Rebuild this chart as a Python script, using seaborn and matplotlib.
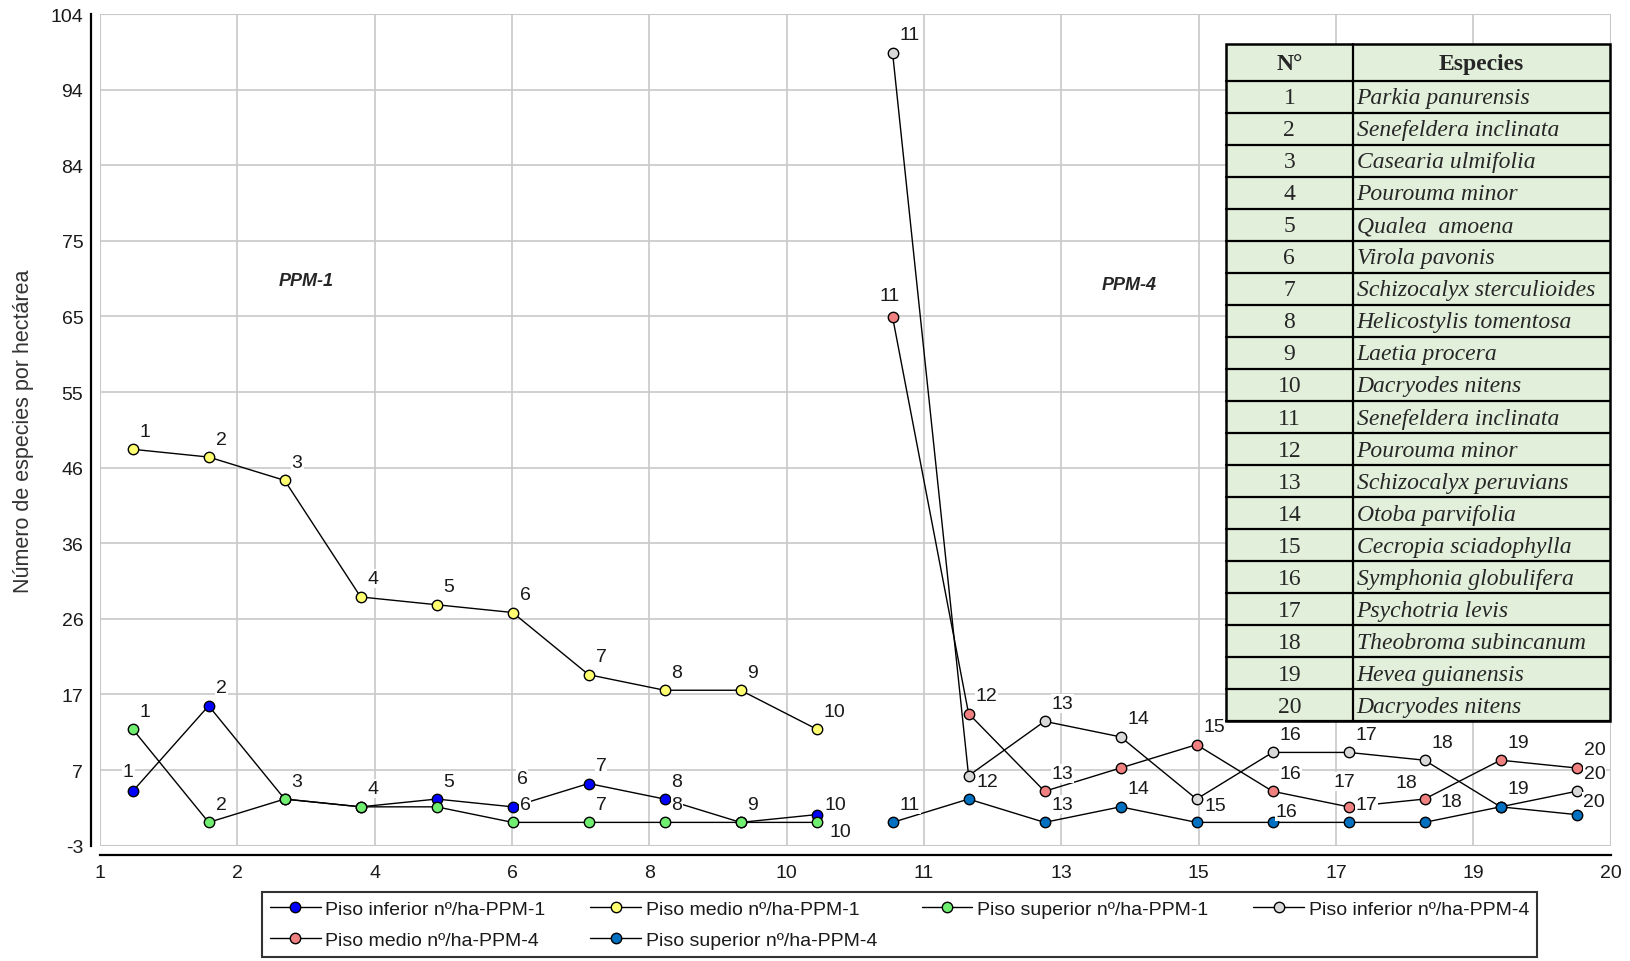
import numpy as np
import pandas as pd
import matplotlib
matplotlib.use('Agg')
import matplotlib.pyplot as plt
from matplotlib.lines import Line2D
from matplotlib.patches import Rectangle
import seaborn as sns

sns.set_theme(style='white')
plt.rcParams['font.family'] = ['Liberation Sans', 'DejaVu Sans']

# Data
ppm1_ids = list(range(1, 11))
ppm4_ids = list(range(11, 21))

inf_ppm1 = [4, 15, 3, 2, 3, 2, 5, 3, 0, 1]
med_ppm1 = [48, 47, 44, 29, 28, 27, 19, 17, 17, 12]
sup_ppm1 = [12, 0, 3, 2, 2, 0, 0, 0, 0, 0]
inf_ppm4 = [99, 6, 13, 11, 3, 9, 9, 8, 2, 4]
med_ppm4 = [65, 14, 4, 7, 10, 4, 2, 3, 8, 7]
sup_ppm4 = [0, 3, 0, 2, 0, 0, 0, 0, 2, 1]

series_names = ['Piso inferior nº/ha-PPM-1', 'Piso medio nº/ha-PPM-1',
                'Piso superior nº/ha-PPM-1', 'Piso inferior nº/ha-PPM-4',
                'Piso medio nº/ha-PPM-4', 'Piso superior nº/ha-PPM-4']
series_x = [ppm1_ids, ppm1_ids, ppm1_ids, ppm4_ids, ppm4_ids, ppm4_ids]
series_y = [inf_ppm1, med_ppm1, sup_ppm1, inf_ppm4, med_ppm4, sup_ppm4]
series_colors = ['#0000FF', '#FFFF70', '#70EE70', '#D9D9D9', '#F08080', '#0070C0']

x_tick_labels = ['1', '2', '4', '6', '8', '10', '11', '13', '15', '17', '19', '20']
y_tick_labels = ['-3', '7', '17', '26', '36', '46', '55', '65', '75', '84', '94', '104']

table_nums = [str(i) for i in range(1, 21)]
table_species = ['Parkia panurensis', 'Senefeldera inclinata', 'Casearia ulmifolia',
                 'Pourouma minor', 'Qualea  amoena', 'Virola pavonis',
                 'Schizocalyx sterculioides', 'Helicostylis tomentosa', 'Laetia procera',
                 'Dacryodes nitens', 'Senefeldera inclinata', 'Pourouma minor',
                 'Schizocalyx peruvians', 'Otoba parvifolia', 'Cecropia sciadophylla',
                 'Symphonia globulifera', 'Psychotria levis', 'Theobroma subincanum',
                 'Hevea guianensis', 'Dacryodes nitens']

# label offsets in pixels (left edge of text); None = label hidden
default_off = (7, 18)
label_off = {
    (0, 1): (-10, 20), (0, 6): (4, 28), (0, 10): (8, 10),
    (2, 3): None, (2, 4): None, (2, 5): None, (2, 9): None, (2, 10): (13, -9),
    (3, 12): (8, -6), (3, 15): (8, -6), (3, 19): None,
    (4, 11): (-13, 22), (4, 14): None, (4, 17): (-15, 25), (4, 18): (-29, 17),
    (5, 12): None, (5, 15): None, (5, 16): (3, 11), (5, 18): (16, 21), (5, 20): (6, 13),
}

W, H = 1630, 962
fig = plt.figure(figsize=(W / 100, H / 100), dpi=100)
ax = fig.add_axes([100 / W, 1 - 846.7 / H, 1510.7 / W, 831.7 / H])

xlim = (0.57, 20.45)
ylim = (-3, 104)

for i in range(6):
    sns.lineplot(x=series_x[i], y=series_y[i], ax=ax, color='black', lw=1,
                 marker='o', markersize=7.5, markerfacecolor=series_colors[i],
                 markeredgecolor='black', markeredgewidth=1, zorder=3)
    for xi, yi in zip(series_x[i], series_y[i]):
        off = label_off.get((i, xi), default_off)
        if off is None:
            continue
        ax.annotate(str(xi), (xi, yi), xytext=off, textcoords='offset pixels',
                    ha='left', va='center', fontsize=14, color='#1a1a1a', zorder=4,
                    bbox=dict(boxstyle='square,pad=0.05', fc='white', ec='none'))

ax.set_xlim(xlim)
ax.set_ylim(ylim)
ax.set_xticks(np.linspace(xlim[0], xlim[1], 12))
ax.set_xticklabels(x_tick_labels)
ax.set_yticks(np.linspace(ylim[0], ylim[1], 12))
ax.set_yticklabels(y_tick_labels)
ax.grid(True, color='#C8C8C8', lw=1.2)
ax.add_patch(Rectangle((0, 0), 1, 1, transform=ax.transAxes, fill=False,
                       ec='#C8C8C8', lw=1.5, zorder=1))
ax.set_xlabel('')
ax.set_ylabel('Número de especies por hectárea', fontsize=15.5, color='#333333')
ax.yaxis.set_label_coords(-0.044, 0.5)

for s in ['top', 'right']:
    ax.spines[s].set_visible(False)
for s in ['left', 'bottom']:
    ax.spines[s].set_color('black')
    ax.spines[s].set_linewidth(1.6)
    ax.spines[s].set_position(('outward', 6.5))
ax.tick_params(axis='both', direction='out', length=5, width=1.2, color='black',
               labelsize=14, labelcolor='#1a1a1a', pad=2)
ax.tick_params(axis='y', pad=0.5)

ax.text(3.28, 69.7, 'PPM-1', fontsize=13, fontweight='bold', fontstyle='italic',
        ha='center', va='center')
ax.text(14.11, 69.2, 'PPM-4', fontsize=13, fontweight='bold', fontstyle='italic',
        ha='center', va='center')

# species table
tx0, tx1, ty0, ty1 = 1226, 1610, 45, 722.3
tax = fig.add_axes([tx0 / W, 1 - ty1 / H, (tx1 - tx0) / W, (ty1 - ty0) / H])
tot = ty1 - ty0
hdr = 36.7
rh = (tot - hdr) / 20
tax.set_xlim(0, 1)
tax.set_ylim(tot, 0)
tax.axis('off')
tax.add_patch(Rectangle((0, 0), 1, tot, fc='#E2EFDA', ec='black', lw=1.8, clip_on=False))
col = 0.33
tax.plot([col, col], [0, tot], color='black', lw=1.6, clip_on=False)
for r in range(21):
    yb = hdr + r * rh
    tax.plot([0, 1], [yb, yb], color='black', lw=1.6, clip_on=False)
serif = ['Liberation Serif', 'DejaVu Serif']
tax.text(col / 2, hdr / 2 + 1, 'N°', family=serif, fontsize=17, fontweight='bold',
         ha='center', va='center')
tax.text((col + 1) / 2, hdr / 2 + 1, 'Especies', family=serif, fontsize=17,
         fontweight='bold', ha='center', va='center')
for r, (num, sp) in enumerate(zip(table_nums, table_species)):
    yc = hdr + (r + 0.5) * rh + 1
    tax.text(col / 2, yc, num, family=serif, fontsize=17, ha='center', va='center')
    tax.text(col + 0.01, yc, sp, family=serif, fontsize=17, fontstyle='italic',
             ha='left', va='center')

# legend (column-major order so rows read like the reference)
handles = [Line2D([0], [0], color='black', lw=1, marker='o', markersize=7.5,
                  markerfacecolor=c, markeredgecolor='black') for c in series_colors]
order = [0, 4, 1, 5, 2, 3]
leg = fig.legend([handles[k] for k in order], [series_names[k] for k in order],
                 loc='center', bbox_to_anchor=(899.5 / W, 1 - 925.5 / H), ncol=4,
                 frameon=True, fancybox=False, edgecolor='black', fontsize=14,
                 handlelength=2.6, columnspacing=2.3, labelspacing=0.7,
                 borderpad=0.4, handletextpad=0.25)
leg.get_frame().set_linewidth(1.5)
for t in leg.get_texts():
    t.set_color('#1a1a1a')

fig.savefig('out.png', dpi=100)
